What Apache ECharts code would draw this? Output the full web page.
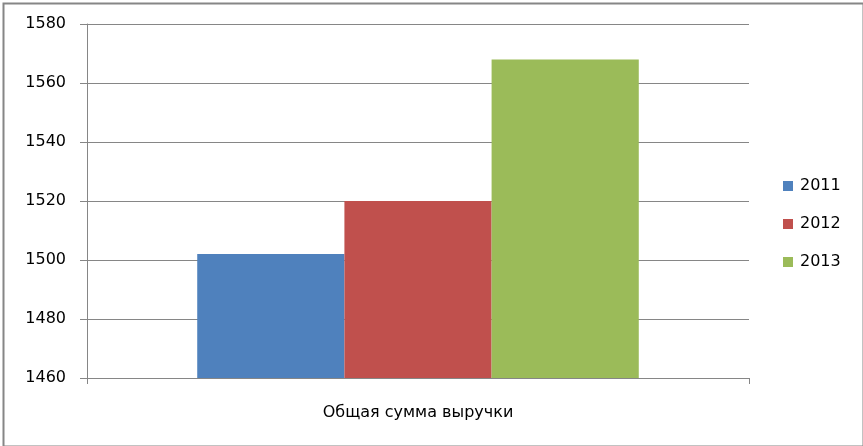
<!DOCTYPE html>
<html>
<head>
<meta charset="utf-8">
<script src="https://cdn.jsdelivr.net/npm/echarts@6/dist/echarts.min.js"></script>
<style>html,body{margin:0;padding:0;background:#fff}#c{width:863px;height:446px}</style>
</head>
<body>
<div id="c"></div>
<script>
const categories = ['Общая сумма выручки'];
const seriesNames = ['2011', '2012', '2013'];
const values2011 = [1502];
const values2012 = [1520];
const values2013 = [1568];
const yTicks = [1460, 1480, 1500, 1520, 1540, 1560, 1580];
const colors = ['#4F81BD', '#C0504D', '#9BBB59'];
const seriesValues = [values2011, values2012, values2013];

const font = 'DejaVu Sans';
const chart = echarts.init(document.getElementById('c'), null, {renderer: 'canvas'});
chart.setOption({
  animation: false,
  textStyle: {fontFamily: font},
  graphic: [{
    type: 'rect', left: 1, top: 1, z: 100,
    shape: {x: 0, y: 0, width: 860, height: 443},
    style: {fill: 'none', stroke: '#868686', lineWidth: 2}
  }],
  grid: {left: 87, right: 114, top: 24, bottom: 68},
  legend: {
    orient: 'vertical', left: 783, top: 178, padding: 0,
    itemWidth: 10, itemHeight: 10, itemGap: 22,
    icon: 'rect',
    textStyle: {fontFamily: font, fontSize: 16, color: '#000', padding: [0, 0, 0, 2]},
    data: seriesNames
  },
  xAxis: {
    type: 'category', data: categories,
    axisLine: {show: true, lineStyle: {color: '#868686', width: 1}},
    axisTick: {show: true, length: 6, lineStyle: {color: '#868686'}},
    axisLabel: {fontFamily: font, fontSize: 16, color: '#000', margin: 27}
  },
  yAxis: {
    type: 'value', min: yTicks[0], max: yTicks[yTicks.length - 1], interval: 20,
    axisLine: {show: true, lineStyle: {color: '#868686', width: 1}},
    axisTick: {show: true, length: 7, lineStyle: {color: '#868686'}},
    splitLine: {show: true, lineStyle: {color: '#868686', width: 1}},
    axisLabel: {fontFamily: font, fontSize: 16, color: '#000', margin: 21,
      formatter: v => String(v)}
  },
  series: seriesNames.map((n, i) => ({
    name: n, type: 'bar', data: seriesValues[i],
    barGap: '0%', barCategoryGap: '33.3%',
    itemStyle: {color: colors[i]}
  }))
});
</script>
</body>
</html>
